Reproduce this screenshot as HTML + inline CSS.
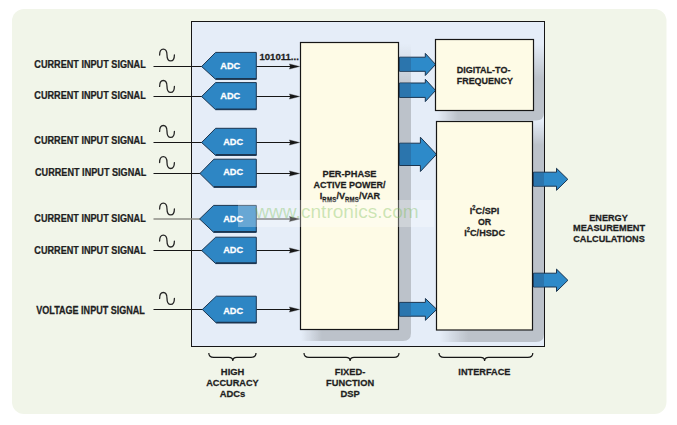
<!DOCTYPE html>
<html><head><meta charset="utf-8"><style>
html,body{margin:0;padding:0;background:#ffffff;}
body{width:677px;height:425px;overflow:hidden;font-family:"Liberation Sans",sans-serif;}
svg{position:absolute;left:0;top:0;}
</style></head><body>
<svg width="677" height="425" viewBox="0 0 677 425"><defs>
<linearGradient id="fadeV" x1="0" y1="0" x2="0" y2="1"><stop offset="0" stop-color="#bcc2ca" stop-opacity="0"/><stop offset="1" stop-color="#bcc2ca" stop-opacity="1"/></linearGradient>
<linearGradient id="fadeH" x1="0" y1="0" x2="1" y2="0"><stop offset="0" stop-color="#bcc2ca" stop-opacity="0"/><stop offset="1" stop-color="#bcc2ca" stop-opacity="1"/></linearGradient>
<filter id="blur1" x="-10%" y="-10%" width="120%" height="120%"><feGaussianBlur stdDeviation="0.6"/></filter>
</defs>
<rect x="12" y="9" width="654.5" height="405" rx="12" fill="#f1f5e9"/><rect x="191.5" y="21.5" width="353" height="325" fill="#e5edf8" stroke="#161616" stroke-width="1"/><path d="M399,92 L411,92 L411,333 Q411,341 403,341 L322,341 L322,330 L399,330 Z" fill="#bcc2ca" filter="url(#blur1)"/><rect x="399" y="44" width="12" height="48" fill="url(#fadeV)" filter="url(#blur1)"/><rect x="301" y="330" width="21" height="11" fill="url(#fadeH)" filter="url(#blur1)"/><path d="M534,78 L544,78 L544,112.5 Q544,120.5 536,120.5 L458,120.5 L458,111 L534,111 Z" fill="#bcc2ca" filter="url(#blur1)"/><rect x="534" y="44" width="10" height="34" fill="url(#fadeV)" filter="url(#blur1)"/><rect x="437" y="111" width="21" height="9.5" fill="url(#fadeH)" filter="url(#blur1)"/><path d="M533,145 L544,145 L544,334 Q544,342 536,342 L468,342 L468,330.5 L533,330.5 Z" fill="#bcc2ca" filter="url(#blur1)"/><rect x="533" y="121" width="11" height="24" fill="url(#fadeV)" filter="url(#blur1)"/><rect x="440" y="330.5" width="28" height="11.5" fill="url(#fadeH)" filter="url(#blur1)"/><path d="M399.5,57.2 L425.3,57.2 L425.3,53.4 L435.6,64.45 L425.3,75.5 L425.3,71.3 L399.5,71.3 Z" fill="#2d8ac9" stroke="#1b3550" stroke-width="1" stroke-linejoin="miter"/><rect x="399.5" y="57.7" width="11.5" height="13.099999999999994" fill="#2a6fa6" opacity="0.8"/><path d="M399.5,83.0 L425.3,83.0 L425.3,79.3 L435.6,90.44999999999999 L425.3,101.6 L425.3,97.4 L399.5,97.4 Z" fill="#2d8ac9" stroke="#1b3550" stroke-width="1" stroke-linejoin="miter"/><rect x="399.5" y="83.5" width="11.5" height="13.400000000000006" fill="#2a6fa6" opacity="0.8"/><path d="M399.5,143.2 L420.4,143.2 L420.4,137.2 L436.5,154.35 L420.4,171.5 L420.4,165.5 L399.5,165.5 Z" fill="#2d8ac9" stroke="#1b3550" stroke-width="1" stroke-linejoin="miter"/><rect x="399.5" y="143.7" width="11.5" height="21.30000000000001" fill="#2a6fa6" opacity="0.8"/><path d="M399.5,302.4 L425.4,302.4 L425.4,298.5 L436.8,309.4 L425.4,320.3 L425.4,316.2 L399.5,316.2 Z" fill="#2d8ac9" stroke="#1b3550" stroke-width="1" stroke-linejoin="miter"/><rect x="399.5" y="302.9" width="11.5" height="12.800000000000011" fill="#2a6fa6" opacity="0.8"/><path d="M533.5,172.2 L556.5,172.2 L556.5,168.3 L567.8,179.3 L556.5,190.3 L556.5,186.2 L533.5,186.2 Z" fill="#2d8ac9" stroke="#1b3550" stroke-width="1" stroke-linejoin="miter"/><rect x="533.5" y="172.7" width="10.5" height="13.0" fill="#2a6fa6" opacity="0.8"/><path d="M533.5,273.2 L556.5,273.2 L556.5,269.1 L567.9,280.3 L556.5,291.5 L556.5,287.0 L533.5,287.0 Z" fill="#2d8ac9" stroke="#1b3550" stroke-width="1" stroke-linejoin="miter"/><rect x="533.5" y="273.7" width="10.5" height="12.800000000000011" fill="#2a6fa6" opacity="0.8"/><rect x="300.5" y="42.5" width="98" height="287" fill="#fefbe6" stroke="#161616" stroke-width="1.2"/><rect x="435.5" y="39.5" width="98" height="71" fill="#fefbe6" stroke="#161616" stroke-width="1.2"/><rect x="436.5" y="121.5" width="96" height="208.5" fill="#fefbe6" stroke="#161616" stroke-width="1.2"/><line x1="153.5" y1="66.5" x2="202.6" y2="66.5" stroke="#161616" stroke-width="1.2"/><line x1="256.3" y1="66.5" x2="292" y2="66.5" stroke="#161616" stroke-width="1.2"/><path d="M289.4,63.9 L299.6,66.5 L289.4,69.1 L290.4,66.5 Z" fill="#161616" stroke="#161616" stroke-width="0.3"/><path d="M201.6,66.5 L215.6,52.4 L256.3,52.4 L256.3,79.3 L215.6,79.3 Z" fill="#2e86c4" stroke="#1b3550" stroke-width="1" stroke-linejoin="miter"/><line x1="215.6" y1="78.7" x2="256.3" y2="78.7" stroke="#1b3550" stroke-width="1.4"/><g transform="translate(230.2,68.8) scale(1.0,1.04)"><text x="0" y="0" text-anchor="middle" font-family="Liberation Sans" font-weight="bold" font-size="9.2" fill="#ffffff" stroke="#ffffff" stroke-width="0.25">ADC</text></g><path d="M159.60,55.00 C159.60,47.13 167.00,47.13 167.00,55.00 C167.00,62.87 174.40,62.87 174.40,55.00" fill="none" stroke="#262626" stroke-width="1.3" stroke-linecap="round"/><g transform="translate(34.3,67.7) scale(0.913,1.0)"><text x="0" y="0" text-anchor="start" font-family="Liberation Sans" font-weight="bold" font-size="10" fill="#1e1e1e" stroke="#1e1e1e" stroke-width="0.25">CURRENT INPUT SIGNAL</text></g><line x1="153.5" y1="96.5" x2="202.6" y2="96.5" stroke="#161616" stroke-width="1.2"/><line x1="256.3" y1="96.5" x2="292" y2="96.5" stroke="#161616" stroke-width="1.2"/><path d="M289.4,93.9 L299.6,96.5 L289.4,99.1 L290.4,96.5 Z" fill="#161616" stroke="#161616" stroke-width="0.3"/><path d="M201.6,96.5 L215.6,82.6 L256.3,82.6 L256.3,109.7 L215.6,109.7 Z" fill="#2e86c4" stroke="#1b3550" stroke-width="1" stroke-linejoin="miter"/><line x1="215.6" y1="109.10000000000001" x2="256.3" y2="109.10000000000001" stroke="#1b3550" stroke-width="1.4"/><g transform="translate(230.2,99.0) scale(1.0,1.04)"><text x="0" y="0" text-anchor="middle" font-family="Liberation Sans" font-weight="bold" font-size="9.2" fill="#ffffff" stroke="#ffffff" stroke-width="0.25">ADC</text></g><path d="M159.60,86.40 C159.60,78.53 167.00,78.53 167.00,86.40 C167.00,94.27 174.40,94.27 174.40,86.40" fill="none" stroke="#262626" stroke-width="1.3" stroke-linecap="round"/><g transform="translate(34.3,99.3) scale(0.913,1.0)"><text x="0" y="0" text-anchor="start" font-family="Liberation Sans" font-weight="bold" font-size="10" fill="#1e1e1e" stroke="#1e1e1e" stroke-width="0.25">CURRENT INPUT SIGNAL</text></g><line x1="153.5" y1="142.5" x2="202.6" y2="142.5" stroke="#161616" stroke-width="1.2"/><line x1="256.3" y1="142.5" x2="292" y2="142.5" stroke="#161616" stroke-width="1.2"/><path d="M289.4,139.9 L299.6,142.5 L289.4,145.1 L290.4,142.5 Z" fill="#161616" stroke="#161616" stroke-width="0.3"/><path d="M201.6,142.5 L215.6,128.3 L256.3,128.3 L256.3,155.4 L215.6,155.4 Z" fill="#2e86c4" stroke="#1b3550" stroke-width="1" stroke-linejoin="miter"/><line x1="215.6" y1="154.8" x2="256.3" y2="154.8" stroke="#1b3550" stroke-width="1.4"/><g transform="translate(233.1,145.4) scale(1.0,1.04)"><text x="0" y="0" text-anchor="middle" font-family="Liberation Sans" font-weight="bold" font-size="9.2" fill="#ffffff" stroke="#ffffff" stroke-width="0.25">ADC</text></g><path d="M159.60,131.40 C159.60,123.53 167.00,123.53 167.00,131.40 C167.00,139.27 174.40,139.27 174.40,131.40" fill="none" stroke="#262626" stroke-width="1.3" stroke-linecap="round"/><g transform="translate(34.3,143.8) scale(0.913,1.0)"><text x="0" y="0" text-anchor="start" font-family="Liberation Sans" font-weight="bold" font-size="10" fill="#1e1e1e" stroke="#1e1e1e" stroke-width="0.25">CURRENT INPUT SIGNAL</text></g><line x1="153.5" y1="173.5" x2="200.9" y2="173.5" stroke="#161616" stroke-width="1.2"/><line x1="256.3" y1="173.5" x2="292" y2="173.5" stroke="#161616" stroke-width="1.2"/><path d="M289.4,170.9 L299.6,173.5 L289.4,176.1 L290.4,173.5 Z" fill="#161616" stroke="#161616" stroke-width="0.3"/><path d="M199.9,173.5 L213.9,159.2 L256.3,159.2 L256.3,187.3 L213.9,187.3 Z" fill="#2e86c4" stroke="#1b3550" stroke-width="1" stroke-linejoin="miter"/><line x1="213.9" y1="186.70000000000002" x2="256.3" y2="186.70000000000002" stroke="#1b3550" stroke-width="1.4"/><g transform="translate(233.1,175.4) scale(1.0,1.04)"><text x="0" y="0" text-anchor="middle" font-family="Liberation Sans" font-weight="bold" font-size="9.2" fill="#ffffff" stroke="#ffffff" stroke-width="0.25">ADC</text></g><path d="M159.60,162.60 C159.60,154.73 167.00,154.73 167.00,162.60 C167.00,170.47 174.40,170.47 174.40,162.60" fill="none" stroke="#262626" stroke-width="1.3" stroke-linecap="round"/><g transform="translate(35.0,175.8) scale(0.913,1.0)"><text x="0" y="0" text-anchor="start" font-family="Liberation Sans" font-weight="bold" font-size="10" fill="#1e1e1e" stroke="#1e1e1e" stroke-width="0.25">CURRENT INPUT SIGNAL</text></g><line x1="153.5" y1="219.0" x2="200.6" y2="219.0" stroke="#8c8c86" stroke-width="1.7"/><line x1="256.3" y1="219.0" x2="292" y2="219.0" stroke="#161616" stroke-width="1.2"/><path d="M289.4,216.4 L299.6,219.0 L289.4,221.6 L290.4,219.0 Z" fill="#161616" stroke="#161616" stroke-width="0.3"/><path d="M199.6,219.0 L213.6,205.4 L256.3,205.4 L256.3,232.3 L213.6,232.3 Z" fill="#2e86c4" stroke="#1b3550" stroke-width="1" stroke-linejoin="miter"/><line x1="213.6" y1="231.70000000000002" x2="256.3" y2="231.70000000000002" stroke="#1b3550" stroke-width="1.4"/><g transform="translate(233.1,221.7) scale(1.0,1.04)"><text x="0" y="0" text-anchor="middle" font-family="Liberation Sans" font-weight="bold" font-size="9.2" fill="#ffffff" stroke="#ffffff" stroke-width="0.25">ADC</text></g><path d="M159.60,209.00 C159.60,201.13 167.00,201.13 167.00,209.00 C167.00,216.87 174.40,216.87 174.40,209.00" fill="none" stroke="#262626" stroke-width="1.3" stroke-linecap="round"/><g transform="translate(34.3,221.8) scale(0.913,1.0)"><text x="0" y="0" text-anchor="start" font-family="Liberation Sans" font-weight="bold" font-size="10" fill="#1e1e1e" stroke="#1e1e1e" stroke-width="0.25">CURRENT INPUT SIGNAL</text></g><line x1="153.5" y1="250.5" x2="202.7" y2="250.5" stroke="#161616" stroke-width="1.2"/><line x1="256.3" y1="250.5" x2="292" y2="250.5" stroke="#161616" stroke-width="1.2"/><path d="M289.4,247.9 L299.6,250.5 L289.4,253.1 L290.4,250.5 Z" fill="#161616" stroke="#161616" stroke-width="0.3"/><path d="M201.7,250.5 L215.7,237.2 L256.3,237.2 L256.3,263.6 L215.7,263.6 Z" fill="#2e86c4" stroke="#1b3550" stroke-width="1" stroke-linejoin="miter"/><line x1="215.7" y1="263.0" x2="256.3" y2="263.0" stroke="#1b3550" stroke-width="1.4"/><g transform="translate(233.1,252.8) scale(1.0,1.04)"><text x="0" y="0" text-anchor="middle" font-family="Liberation Sans" font-weight="bold" font-size="9.2" fill="#ffffff" stroke="#ffffff" stroke-width="0.25">ADC</text></g><path d="M159.60,241.10 C159.60,233.23 167.00,233.23 167.00,241.10 C167.00,248.97 174.40,248.97 174.40,241.10" fill="none" stroke="#262626" stroke-width="1.3" stroke-linecap="round"/><g transform="translate(34.3,253.8) scale(0.913,1.0)"><text x="0" y="0" text-anchor="start" font-family="Liberation Sans" font-weight="bold" font-size="10" fill="#1e1e1e" stroke="#1e1e1e" stroke-width="0.25">CURRENT INPUT SIGNAL</text></g><line x1="153.5" y1="309.5" x2="203.3" y2="309.5" stroke="#161616" stroke-width="1.2"/><line x1="256.3" y1="309.5" x2="292" y2="309.5" stroke="#161616" stroke-width="1.2"/><path d="M289.4,306.9 L299.6,309.5 L289.4,312.1 L290.4,309.5 Z" fill="#161616" stroke="#161616" stroke-width="0.3"/><path d="M202.3,309.5 L216.3,296.2 L256.3,296.2 L256.3,323.0 L216.3,323.0 Z" fill="#2e86c4" stroke="#1b3550" stroke-width="1" stroke-linejoin="miter"/><line x1="216.3" y1="322.4" x2="256.3" y2="322.4" stroke="#1b3550" stroke-width="1.4"/><g transform="translate(233.1,313.5) scale(1.0,1.04)"><text x="0" y="0" text-anchor="middle" font-family="Liberation Sans" font-weight="bold" font-size="9.2" fill="#ffffff" stroke="#ffffff" stroke-width="0.25">ADC</text></g><path d="M159.60,298.40 C159.60,290.53 167.00,290.53 167.00,298.40 C167.00,306.27 174.40,306.27 174.40,298.40" fill="none" stroke="#262626" stroke-width="1.3" stroke-linecap="round"/><g transform="translate(36.3,313.6) scale(0.905,1.0)"><text x="0" y="0" text-anchor="start" font-family="Liberation Sans" font-weight="bold" font-size="10" fill="#1e1e1e" stroke="#1e1e1e" stroke-width="0.25">VOLTAGE INPUT SIGNAL</text></g><g transform="translate(259.4,59.7) scale(1.02,1.03)"><text x="0" y="0" text-anchor="start" font-family="Liberation Sans" font-weight="bold" font-size="9.4" fill="#1e1e1e" stroke="#1e1e1e" stroke-width="0.25">101011...</text></g><g transform="translate(349.5,176.5) scale(0.986,1.05)"><text x="0" y="0" text-anchor="middle" font-family="Liberation Sans" font-weight="bold" font-size="9.4" fill="#1e1e1e" stroke="#1e1e1e" stroke-width="0.25">PER-PHASE</text></g><g transform="translate(349.5,187.8) scale(0.958,1.05)"><text x="0" y="0" text-anchor="middle" font-family="Liberation Sans" font-weight="bold" font-size="9.4" fill="#1e1e1e" stroke="#1e1e1e" stroke-width="0.25">ACTIVE POWER/</text></g><g transform="translate(350,198.7) scale(0.97,1.05)"><text x="0" y="0" text-anchor="middle" font-family="Liberation Sans" font-weight="bold" font-size="9.4" fill="#1e1e1e" stroke="#1e1e1e" stroke-width="0.25">I<tspan font-size="6.2" letter-spacing="0.25" dy="3.5">RMS</tspan><tspan dy="-3.5">/V</tspan><tspan font-size="6.2" letter-spacing="0.25" dy="3.5">RMS</tspan><tspan dy="-3.5">/VAR</tspan></text></g><g transform="translate(483.6,73.2) scale(0.957,1.05)"><text x="0" y="0" text-anchor="middle" font-family="Liberation Sans" font-weight="bold" font-size="9.4" fill="#1e1e1e" stroke="#1e1e1e" stroke-width="0.25">DIGITAL-TO-</text></g><g transform="translate(484.8,84.0) scale(0.954,1.05)"><text x="0" y="0" text-anchor="middle" font-family="Liberation Sans" font-weight="bold" font-size="9.4" fill="#1e1e1e" stroke="#1e1e1e" stroke-width="0.25">FREQUENCY</text></g><g transform="translate(484.6,214) scale(0.97,1.05)"><text x="0" y="0" text-anchor="middle" font-family="Liberation Sans" font-weight="bold" font-size="9.4" fill="#1e1e1e" stroke="#1e1e1e" stroke-width="0.25">I<tspan font-size="6" dy="-3.6">2</tspan><tspan dy="3.6">C/SPI</tspan></text></g><g transform="translate(484.6,224.9) scale(0.94,1.05)"><text x="0" y="0" text-anchor="middle" font-family="Liberation Sans" font-weight="bold" font-size="9.4" fill="#1e1e1e" stroke="#1e1e1e" stroke-width="0.25">OR</text></g><g transform="translate(484.6,235.5) scale(0.97,1.05)"><text x="0" y="0" text-anchor="middle" font-family="Liberation Sans" font-weight="bold" font-size="9.4" fill="#1e1e1e" stroke="#1e1e1e" stroke-width="0.25">I<tspan font-size="6" dy="-3.6">2</tspan><tspan dy="3.6">C/HSDC</tspan></text></g><g transform="translate(608.5,221) scale(0.97,1.05)"><text x="0" y="0" text-anchor="middle" font-family="Liberation Sans" font-weight="bold" font-size="9.4" fill="#1e1e1e" stroke="#1e1e1e" stroke-width="0.25">ENERGY</text></g><g transform="translate(609,231.2) scale(0.98,1.05)"><text x="0" y="0" text-anchor="middle" font-family="Liberation Sans" font-weight="bold" font-size="9.4" fill="#1e1e1e" stroke="#1e1e1e" stroke-width="0.25">MEASUREMENT</text></g><g transform="translate(609,242.0) scale(0.975,1.05)"><text x="0" y="0" text-anchor="middle" font-family="Liberation Sans" font-weight="bold" font-size="9.4" fill="#1e1e1e" stroke="#1e1e1e" stroke-width="0.25">CALCULATIONS</text></g><g transform="translate(232.6,374.6) scale(1.0,1.05)"><text x="0" y="0" text-anchor="middle" font-family="Liberation Sans" font-weight="bold" font-size="9.4" fill="#1e1e1e" stroke="#1e1e1e" stroke-width="0.25">HIGH</text></g><g transform="translate(232.4,385.9) scale(0.976,1.05)"><text x="0" y="0" text-anchor="middle" font-family="Liberation Sans" font-weight="bold" font-size="9.4" fill="#1e1e1e" stroke="#1e1e1e" stroke-width="0.25">ACCURACY</text></g><g transform="translate(232.5,396.9) scale(1.0,1.05)"><text x="0" y="0" text-anchor="middle" font-family="Liberation Sans" font-weight="bold" font-size="9.4" fill="#1e1e1e" stroke="#1e1e1e" stroke-width="0.25">ADCs</text></g><g transform="translate(350.1,375) scale(0.99,1.05)"><text x="0" y="0" text-anchor="middle" font-family="Liberation Sans" font-weight="bold" font-size="9.4" fill="#1e1e1e" stroke="#1e1e1e" stroke-width="0.25">FIXED-</text></g><g transform="translate(350.1,386) scale(0.99,1.05)"><text x="0" y="0" text-anchor="middle" font-family="Liberation Sans" font-weight="bold" font-size="9.4" fill="#1e1e1e" stroke="#1e1e1e" stroke-width="0.25">FUNCTION</text></g><g transform="translate(350.1,397) scale(1.0,1.05)"><text x="0" y="0" text-anchor="middle" font-family="Liberation Sans" font-weight="bold" font-size="9.4" fill="#1e1e1e" stroke="#1e1e1e" stroke-width="0.25">DSP</text></g><g transform="translate(484.4,375.1) scale(0.98,1.05)"><text x="0" y="0" text-anchor="middle" font-family="Liberation Sans" font-weight="bold" font-size="9.4" fill="#1e1e1e" stroke="#1e1e1e" stroke-width="0.25">INTERFACE</text></g><path d="M208.8,353.0 Q208.8,357.4 213.8,357.4 L228.8,357.4 Q232.8,357.4 232.8,361.0 Q232.8,357.4 236.8,357.4 L251,357.4 Q256,357.4 256,353.0" fill="none" stroke="#161616" stroke-width="1.2"/><path d="M304,353.0 Q304,357.4 309,357.4 L346.1,357.4 Q350.1,357.4 350.1,361.0 Q350.1,357.4 354.1,357.4 L394,357.4 Q399,357.4 399,353.0" fill="none" stroke="#161616" stroke-width="1.2"/><path d="M439,353.0 Q439,357.4 444,357.4 L480.6,357.4 Q484.6,357.4 484.6,361.0 Q484.6,357.4 488.6,357.4 L527.8,357.4 Q532.8,357.4 532.8,353.0" fill="none" stroke="#161616" stroke-width="1.2"/><rect x="238" y="200" width="196" height="27" fill="#ffffff" fill-opacity="0.28"/><text x="255.3" y="217.9" font-family="Liberation Sans" font-size="19.1" fill="rgb(110,185,70)" fill-opacity="0.35">www.cntronics.com</text>
</svg>
</body></html>
